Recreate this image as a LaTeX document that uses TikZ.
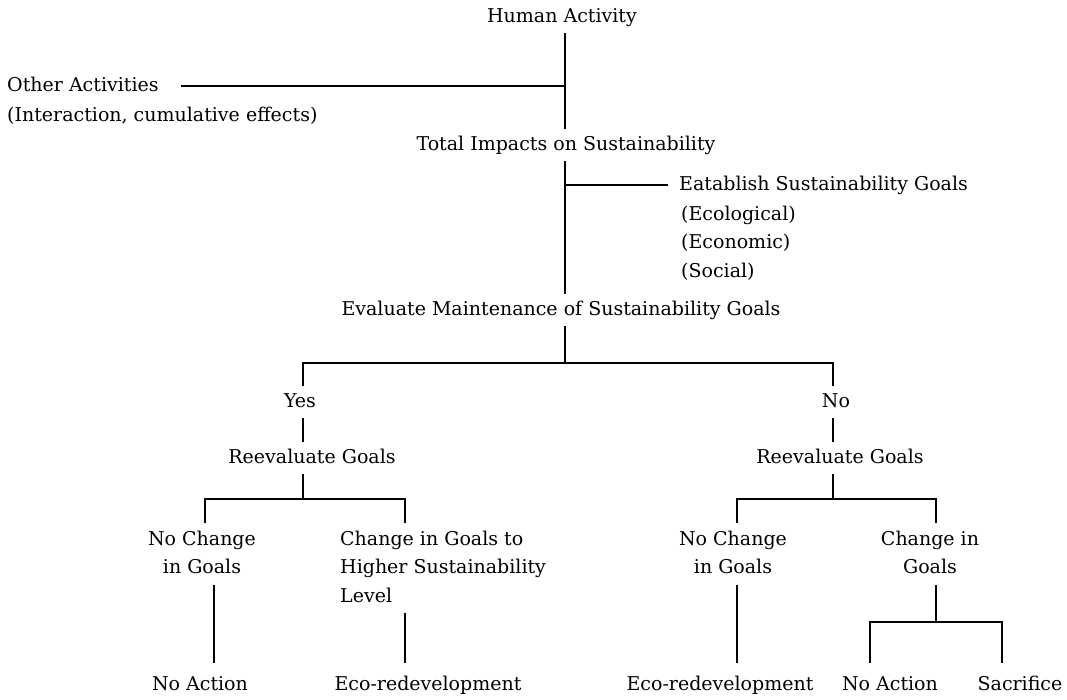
\documentclass[tikz,border=0pt]{standalone}
\usepackage{fontspec}
\setmainfont{DejaVu Serif}
\begin{document}
\begin{tikzpicture}[x=1pt,y=-1pt,
  lbl/.style={inner xsep=0pt, inner ysep=2pt, font=\fontsize{19}{28.5}\selectfont},
  leaf/.style={lbl, inner ysep=8pt},
  link/.style={line width=1.6pt, line cap=butt}]
\useasboundingbox (0,0) rectangle (1067,699);

% upper chain
\node[lbl] (human) at (562,17) {\strut Human Activity};
\node[lbl,anchor=west] (other) at (7,86) {\strut Other Activities};
\node[lbl,anchor=west] (inter) at (7,116) {\strut (Interaction, cumulative effects)};
\node[lbl] (total) at (566,145) {\strut Total Impacts on Sustainability};
\node[lbl,anchor=west] (estab) at (679,185) {\strut Eatablish Sustainability Goals};
\node[lbl,anchor=west,align=left] (goals) at (681,243)
  {\strut(Ecological)\\\strut(Economic)\\\strut(Social)};
\node[lbl] (eval) at (561,310) {\strut Evaluate Maintenance of Sustainability Goals};

% yes / no branches
\node[lbl] (yes) at (300,402) {\strut Yes};
\node[lbl] (no) at (836,402) {\strut No};
\node[lbl] (reL) at (312,458) {\strut Reevaluate Goals};
\node[lbl] (reR) at (840,458) {\strut Reevaluate Goals};

\node[lbl,align=center] (ncL) at (202,554) {\strut No Change\\\strut in Goals};
\node[lbl,align=left,anchor=west] (chL) at (340,568)
  {\strut Change in Goals to\\\strut Higher Sustainability\\\strut Level};
\node[lbl,align=center] (ncR) at (733,554) {\strut No Change\\\strut in Goals};
\node[lbl,align=center] (chR) at (930,554) {\strut Change in\\\strut Goals};

% outcomes
\node[leaf] (naL) at (200,685) {\strut No Action};
\node[leaf] (ecoL) at (428,685) {\strut Eco-redevelopment};
\node[leaf] (ecoR) at (720,685) {\strut Eco-redevelopment};
\node[leaf] (naR) at (890,685) {\strut No Action};
\node[leaf] (sac) at (1020,685) {\strut Sacrifice};

% trunk and branch positions
\coordinate (sp) at (565,0);
\coordinate (bL) at (303,0);
\coordinate (bR) at (833,0);
\coordinate (bar1) at (0,363);
\coordinate (bar2) at (0,499);
\coordinate (bar3) at (0,622);
\coordinate (cLL) at (205,0);
\coordinate (cLR) at (405,0);
\coordinate (dL) at (214,0);
\coordinate (cRL) at (737,0);
\coordinate (cRR) at (936,0);
\coordinate (eL) at (870,0);
\coordinate (eR) at (1002,0);

% connectors
\draw[link] (human.south -| sp) -- (total.north -| sp);
\draw[link] (other.east -| sp) -- ([xshift=22pt]other.east);
\draw[link] (total.south -| sp) -- (eval.north -| sp);
\draw[link, shorten >=11pt] (estab.west -| sp) -- (estab.west);
\draw[link] (eval.south -| sp) -- (sp |- bar1);
\draw[link] (yes.north -| bL) -- (bL |- bar1) -- (bR |- bar1) -- (no.north -| bR);
\draw[link] (yes.south -| bL) -- (reL.north -| bL);
\draw[link] (no.south -| bR) -- (reR.north -| bR);

\draw[link] (reL.south -| bL) -- (bL |- bar2);
\draw[link] (ncL.north -| cLL) -- (cLL |- bar2) -- (cLR |- bar2) -- (chL.north -| cLR);
\draw[link] (ncL.south -| dL) -- (naL.north -| dL);
\draw[link] (chL.south -| cLR) -- (ecoL.north -| cLR);

\draw[link] (reR.south -| bR) -- (bR |- bar2);
\draw[link] (ncR.north -| cRL) -- (cRL |- bar2) -- (cRR |- bar2) -- (chR.north -| cRR);
\draw[link] (ncR.south -| cRL) -- (ecoR.north -| cRL);
\draw[link] (chR.south -| cRR) -- (cRR |- bar3);
\draw[link] (naR.north -| eL) -- (eL |- bar3) -- (eR |- bar3) -- (sac.north -| eR);
\end{tikzpicture}
\end{document}
